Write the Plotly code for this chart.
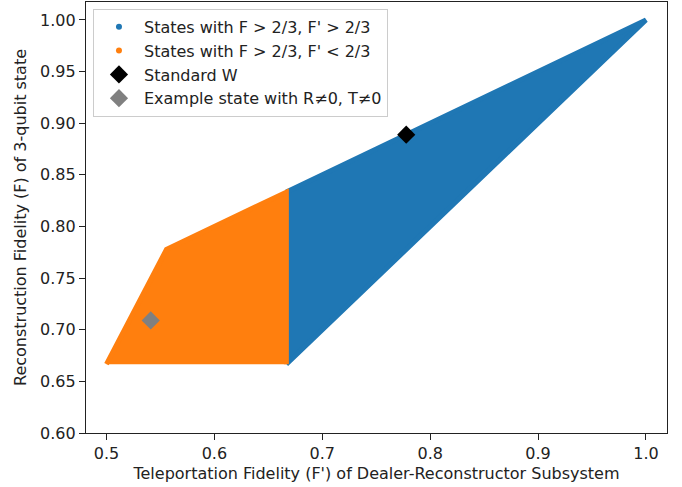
import plotly.graph_objects as go

# Region boundaries (vertices of the sampled state regions)
blue_x = [0.6667, 1.0, 0.6667]
blue_y = [0.6667, 1.0, 0.8333]
orange_x = [0.5, 0.5556, 0.6667, 0.6667]
orange_y = [0.6667, 0.7778, 0.8333, 0.6667]
w_x = [0.7778]
w_y = [0.8889]
ex_x = [0.541]
ex_y = [0.709]

x_ticks = [0.5, 0.6, 0.7, 0.8, 0.9, 1.0]
x_labels = ["0.5", "0.6", "0.7", "0.8", "0.9", "1.0"]
y_ticks = [0.6, 0.65, 0.7, 0.75, 0.8, 0.85, 0.9, 0.95, 1.0]
y_labels = ["0.60", "0.65", "0.70", "0.75", "0.80", "0.85", "0.90", "0.95", "1.00"]

BLUE = "#1f77b4"
ORANGE = "#ff7f0e"
FONT = "DejaVu Sans"
FS = 16

fig = go.Figure()
fig.add_trace(go.Scatter(x=blue_x, y=blue_y, mode="lines", fill="toself",
                         fillcolor=BLUE, line=dict(color=BLUE, width=5),
                         showlegend=False, hoverinfo="skip"))
fig.add_trace(go.Scatter(x=orange_x, y=orange_y, mode="lines", fill="toself",
                         fillcolor=ORANGE, line=dict(color=ORANGE, width=5),
                         showlegend=False, hoverinfo="skip"))
# legend entries
fig.add_trace(go.Scatter(x=[None], y=[None], mode="markers",
                         marker=dict(color=BLUE, size=6),
                         name="States with F > 2/3, F' > 2/3"))
fig.add_trace(go.Scatter(x=[None], y=[None], mode="markers",
                         marker=dict(color=ORANGE, size=6),
                         name="States with F > 2/3, F' < 2/3"))
fig.add_trace(go.Scatter(x=w_x, y=w_y, mode="markers",
                         marker=dict(color="black", size=14, symbol="diamond"),
                         name="Standard W"))
fig.add_trace(go.Scatter(x=ex_x, y=ex_y, mode="markers",
                         marker=dict(color="gray", size=14, symbol="diamond"),
                         name="Example state with R≠0, T≠0"))

axis_common = dict(showgrid=False, zeroline=False, showline=True, linecolor="#222222",
                   linewidth=1.2, mirror=True, ticks="outside", ticklen=6,
                   tickcolor="#222222", tickfont=dict(size=FS, color="#222222"))
fig.update_xaxes(range=[0.481, 1.0195], tickvals=x_ticks, ticktext=x_labels,
                 title=dict(text="Teleportation Fidelity (F') of Dealer-Reconstructor Subsystem",
                            font=dict(size=FS, color="#222222"), standoff=5),
                 **axis_common)
fig.update_yaxes(range=[0.6, 1.0174], tickvals=y_ticks, ticktext=y_labels,
                 title=dict(text="Reconstruction Fidelity (F) of 3-qubit state",
                            font=dict(size=FS, color="#222222"), standoff=9),
                 **axis_common)
fig.update_layout(
    width=682, height=487,
    margin=dict(l=86, r=15, t=2, b=54),
    plot_bgcolor="white", paper_bgcolor="white",
    font=dict(family=FONT, size=FS, color="#222222"),
    legend=dict(x=0.012, y=0.984, xanchor="left", yanchor="top",
                bgcolor="rgba(255,255,255,0.8)", bordercolor="#cccccc", borderwidth=1,
                font=dict(size=FS), tracegroupgap=0, itemsizing="trace", itemwidth=40),
)
fig.write_html("out.html", config={"displayModeBar": False},
               post_script="document.body.style.margin='0';")
